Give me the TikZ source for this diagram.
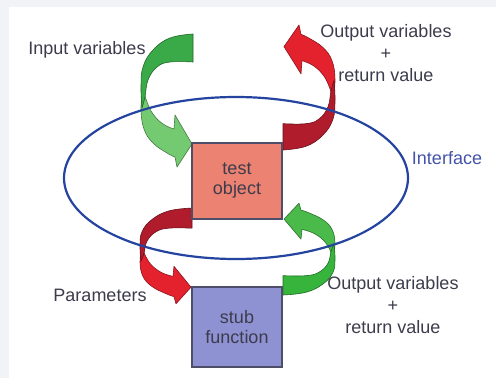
\documentclass[tikz,border=0pt]{standalone}
\usepackage{fontspec}
\setmainfont{Liberation Sans}
\usetikzlibrary{shapes.geometric}
\definecolor{objfill}{HTML}{EC8272}
\definecolor{stubfill}{HTML}{8E91D2}
\definecolor{boxline}{HTML}{4E4E68}
\definecolor{ifblue}{HTML}{2444A0}
\definecolor{iftext}{HTML}{4454AA}
\definecolor{txtgray}{HTML}{3C3C4C}
\definecolor{greendark}{HTML}{3AAA48}
\definecolor{greenlight}{HTML}{74CA70}
\definecolor{greenbright}{HTML}{36B43C}
\definecolor{greenhead}{HTML}{4ABA4A}
\definecolor{reddark}{HTML}{B01C2C}
\definecolor{redlight}{HTML}{E4222E}
\definecolor{framegray}{HTML}{F2F3F6}
% bent block arrow: #1 tail part, #2 head part
\newcommand{\bentarrow}[2]{%
  \filldraw[fill=#2, draw=#2!60!black, line width=0.6pt, line join=round]
    plot[smooth, tension=0.7] coordinates {(-50,55) (-52,75) (-49,95) (-40,109) (-26,119) (-18,123)}
    -- (-16,133) -- (-1,110) -- (-18,81) -- (-19,95)
    -- plot[smooth, tension=0.7] coordinates {(-19,95) (-30,90) (-40,80) (-46,68) (-50,55)} -- cycle;
  \filldraw[fill=#1, draw=#1!60!black, line width=0.6pt, line join=round]
    (0,28) -- (0,0)
    -- plot[smooth, tension=0.7] coordinates {(0,0) (-23,4) (-40,16) (-50,33) (-52,53) (-51,74)}
    -- plot[smooth, tension=0.7] coordinates {(-51,74) (-48,63) (-45,46) (-36,33) (-23,28) (0,28)} -- cycle;
}
\begin{document}
\begin{tikzpicture}[x=1pt, y=-1pt,
every node/.style={font=\fontsize{18}{22}\selectfont, text=txtgray},
box/.style={draw=boxline, line width=1.4pt, align=center, minimum width=90pt, font=\fontsize{18}{20}\selectfont},
lbl/.style={align=center}]
\fill[framegray] (0,0) rectangle (496,378);
\fill[white] (9,7) rectangle (496,378);
% curved arrows
\begin{scope}[shift={(193,34)}]
  \bentarrow{greendark}{greenlight}
\end{scope}
\begin{scope}[shift={(192,208)}, yscale=0.72]
  \bentarrow{reddark}{redlight}
\end{scope}
\begin{scope}[shift={(283,150)}, rotate=180, yscale=0.94]
  \bentarrow{reddark}{redlight}
\end{scope}
\begin{scope}[shift={(283,295)}, rotate=180, yscale=0.69]
  \bentarrow{greenbright}{greenhead}
\end{scope}
% interface and boxes
\node[draw=ifblue, line width=2.2pt, ellipse, minimum width=344pt, minimum height=162pt] (iface) at (236,178) {};
\node[box, fill=objfill, minimum height=76pt] (obj) at (237,181) {test\\object};
\node[box, fill=stubfill, minimum height=80pt] (stub) at (237,327) {stub\\function};
% labels
\node[lbl] (inlbl) at (87,50) {Input variables};
\node[lbl] (outlbl) at (386,53) {Output variables\\+\\return value};
\node[lbl, text=iftext] (iflbl) at (447,158) {Interface};
\node[lbl] (parlbl) at (100,295) {Parameters};
\node[lbl] (retlbl) at (393,305) {Output variables\\+\\return value};
\end{tikzpicture}
\end{document}
